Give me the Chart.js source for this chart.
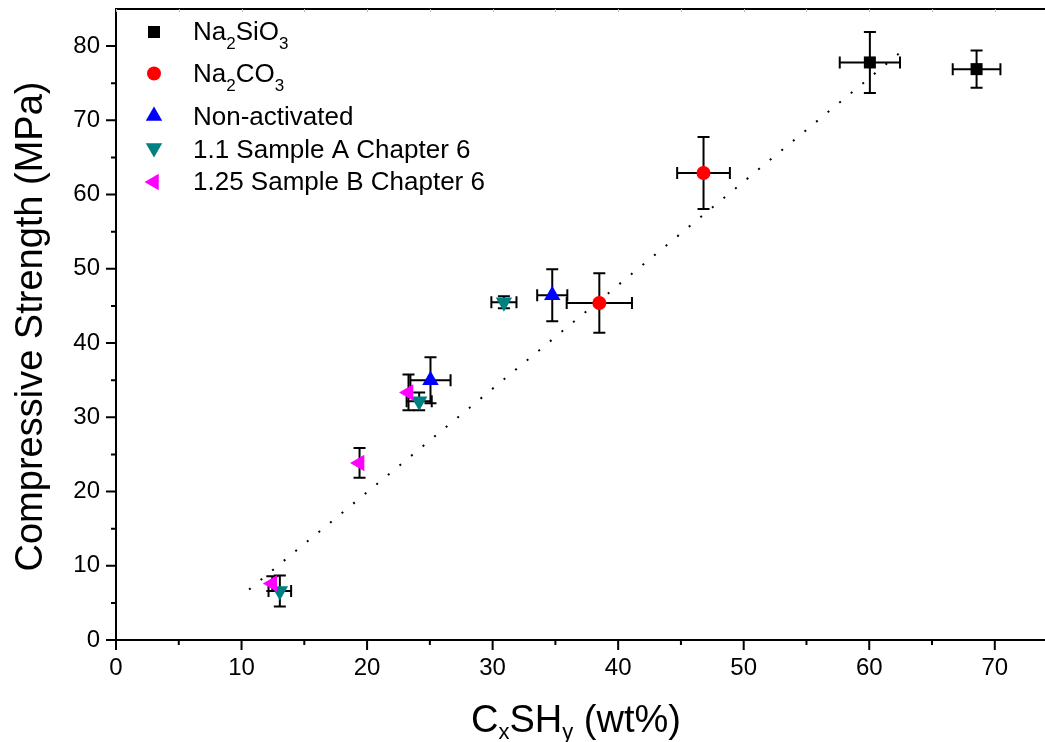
<!DOCTYPE html>
<html>
<head>
<meta charset="utf-8">
<script src="https://cdn.jsdelivr.net/npm/chart.js@4/dist/chart.umd.min.js"></script>
<style>
  html, body { margin: 0; padding: 0; background: #fff; }
  #wrap { width: 1045px; height: 742px; }
</style>
</head>
<body>
<div id="wrap"><canvas id="c" width="1045" height="742"></canvas></div>
<script>
const FONT = "'Liberation Sans', Arial, Helvetica, sans-serif";

// C-S-H content (wt%) vs compressive strength (MPa), with error bars
const silicateX    = [60.05, 68.55];
const silicateY    = [77.8, 76.9];
const silicateXErr = [2.4, 1.9];
const silicateYErr = [4.1, 2.5];

const carbonateX    = [46.8, 38.5];
const carbonateY    = [62.9, 45.4];
const carbonateXErr = [2.1, 2.6];
const carbonateYErr = [4.85, 4.0];

const nonActX    = [34.75, 25.05];
const nonActY    = [46.45, 35.0];
const nonActXErr = [1.2, 1.6];
const nonActYErr = [3.5, 3.1];

const sampleAX    = [30.9, 24.15, 13.05];
const sampleAY    = [45.5, 32.15, 6.6];
const sampleAXErr = [1.0, 1.0, 0.9];
const sampleAYErr = [0.8, 1.2, 2.1];

const sampleBX    = [23.3, 19.4, 12.45];
const sampleBY    = [33.35, 23.85, 7.6];
const sampleBXErr = [0, 0, 0];
const sampleBYErr = [2.4, 2.0, 1.0];

// dotted trend line end points
const trendX = [10.6, 62.8];
const trendY = [6.8, 79.6];

// axis ticks
const xTickValues = [0, 10, 20, 30, 40, 50, 60, 70];
const yTickValues = [0, 10, 20, 30, 40, 50, 60, 70, 80];
const xMinorTicks = [5, 15, 25, 35, 45, 55, 65];
const yMinorTicks = [5, 15, 25, 35, 45, 55, 65, 75];

function points(xs, ys, xe, ye) {
  return xs.map((x, i) => ({ x: x, y: ys[i], xErr: xe[i], yErr: ye[i] }));
}

const series = [
  { key: 'si', parts: [{t:'Na'},{t:'2',sub:true},{t:'SiO'},{t:'3',sub:true}],
    color: '#000000', style: 'rect', radius: 8.5, rotation: 0, legendY: 32, textY: 40,
    data: points(silicateX, silicateY, silicateXErr, silicateYErr) },
  { key: 'co', parts: [{t:'Na'},{t:'2',sub:true},{t:'CO'},{t:'3',sub:true}],
    color: '#ff0000', style: 'circle', radius: 7, rotation: 0, legendY: 73.5, textY: 82,
    data: points(carbonateX, carbonateY, carbonateXErr, carbonateYErr) },
  { key: 'na', parts: [{t:'Non-activated'}],
    color: '#0000ff', style: 'triangle', radius: 9.5, rotation: 0, legendY: 116, textY: 125,
    data: points(nonActX, nonActY, nonActXErr, nonActYErr) },
  { key: 'sa', parts: [{t:'1.1 Sample A Chapter 6'}],
    color: '#008080', style: 'triangle', radius: 9.5, rotation: 180, legendY: 148, textY: 158,
    data: points(sampleAX, sampleAY, sampleAXErr, sampleAYErr) },
  { key: 'sb', parts: [{t:'1.25 Sample B Chapter 6'}],
    color: '#ff00ff', style: 'triangle', radius: 9.5, rotation: 270, legendY: 182, textY: 190,
    data: points(sampleBX, sampleBY, sampleBXErr, sampleBYErr) }
];

function drawRich(ctx, parts, x, y, size, subSize, subDrop) {
  for (const p of parts) {
    ctx.font = (p.sub ? subSize : size) + 'px ' + FONT;
    ctx.fillText(p.t, x, p.sub ? y + subDrop : y);
    x += ctx.measureText(p.t).width;
  }
  return x;
}
function richWidth(ctx, parts, size, subSize) {
  let w = 0;
  for (const p of parts) {
    ctx.font = (p.sub ? subSize : size) + 'px ' + FONT;
    w += ctx.measureText(p.t).width;
  }
  return w;
}

const errorBars = {
  id: 'errorBars',
  beforeDatasetsDraw(chart) {
    const ctx = chart.ctx, xs = chart.scales.x, ys = chart.scales.y;
    const cap = 6;
    ctx.save();
    ctx.strokeStyle = '#000';
    ctx.lineWidth = 2;
    ctx.lineCap = 'butt';
    series.forEach(s => {
      s.data.forEach(p => {
        const px = xs.getPixelForValue(p.x), py = ys.getPixelForValue(p.y);
        if (p.xErr > 0) {
          const l = xs.getPixelForValue(p.x - p.xErr), r = xs.getPixelForValue(p.x + p.xErr);
          ctx.beginPath();
          ctx.moveTo(l, py); ctx.lineTo(r, py);
          ctx.moveTo(l, py - cap); ctx.lineTo(l, py + cap);
          ctx.moveTo(r, py - cap); ctx.lineTo(r, py + cap);
          ctx.stroke();
        }
        if (p.yErr > 0) {
          const t = ys.getPixelForValue(p.y + p.yErr), b = ys.getPixelForValue(p.y - p.yErr);
          ctx.beginPath();
          ctx.moveTo(px, t); ctx.lineTo(px, b);
          ctx.moveTo(px - cap, t); ctx.lineTo(px + cap, t);
          ctx.moveTo(px - cap, b); ctx.lineTo(px + cap, b);
          ctx.stroke();
        }
      });
    });
    ctx.restore();
  }
};

const frameAndText = {
  id: 'frameAndText',
  afterDraw(chart) {
    const ctx = chart.ctx, a = chart.chartArea, xs = chart.scales.x, ys = chart.scales.y;
    ctx.save();
    ctx.strokeStyle = '#000';
    ctx.lineWidth = 2;
    // frame: left, bottom, top
    ctx.beginPath();
    ctx.moveTo(a.left, a.top); ctx.lineTo(a.left, a.bottom); ctx.lineTo(a.right, a.bottom);
    ctx.moveTo(a.left - 1, a.top); ctx.lineTo(a.right, a.top);
    ctx.stroke();
    // outward tick marks
    ctx.beginPath();
    xTickValues.forEach(v => { const x = xs.getPixelForValue(v); ctx.moveTo(x, a.bottom); ctx.lineTo(x, a.bottom + 10); });
    xMinorTicks.forEach(v => { const x = xs.getPixelForValue(v); ctx.moveTo(x, a.bottom); ctx.lineTo(x, a.bottom + 5); });
    yTickValues.forEach(v => { const y = ys.getPixelForValue(v); ctx.moveTo(a.left, y); ctx.lineTo(a.left - 10, y); });
    yMinorTicks.forEach(v => { const y = ys.getPixelForValue(v); ctx.moveTo(a.left, y); ctx.lineTo(a.left - 5, y); });
    ctx.stroke();
    // faint inward ticks on the top edge
    ctx.strokeStyle = '#bbbbbb';
    ctx.lineWidth = 1;
    ctx.beginPath();
    xTickValues.concat(xMinorTicks).forEach(v => {
      const x = Math.round(xs.getPixelForValue(v)) + 0.5;
      ctx.moveTo(x, a.top); ctx.lineTo(x, a.top + 3);
    });
    ctx.stroke();

    ctx.fillStyle = '#000';
    // y axis title
    ctx.save();
    ctx.translate(42, (a.top + a.bottom) / 2 + 2);
    ctx.rotate(-Math.PI / 2);
    ctx.font = '38px ' + FONT;
    ctx.textAlign = 'center';
    ctx.textBaseline = 'alphabetic';
    ctx.fillText('Compressive Strength (MPa)', 0, 0);
    ctx.restore();

    // x axis title with subscripts
    const xt = [{t:'C'},{t:'x',sub:true},{t:'SH'},{t:'y',sub:true},{t:' (wt%)'}];
    ctx.textAlign = 'left';
    ctx.textBaseline = 'alphabetic';
    const w = richWidth(ctx, xt, 38, 22);
    drawRich(ctx, xt, 576 - w / 2, 731.5, 38, 22, 7);

    // legend
    series.forEach(s => {
      ctx.fillStyle = s.color;
      ctx.strokeStyle = s.color;
      Chart.helpers.drawPoint(ctx, { pointStyle: s.style, rotation: s.rotation, radius: s.radius, borderWidth: 0 }, 154, s.legendY);
      ctx.fillStyle = '#000';
      drawRich(ctx, s.parts, 193, s.textY, 26, 17, 9);
    });
    ctx.restore();
  }
};

const datasets = series.map((s, i) => ({
  label: s.parts.map(p => p.t).join(''),
  data: s.data,
  pointStyle: s.style,
  pointRotation: s.rotation,
  pointRadius: s.radius,
  pointHoverRadius: s.radius,
  pointBorderWidth: 0,
  backgroundColor: s.color,
  borderColor: s.color,
  showLine: false,
  order: series.length - 1 - i
}));
datasets.push({
  label: 'trend',
  data: trendX.map((x, i) => ({ x: x, y: trendY[i] })),
  showLine: true,
  borderColor: '#000',
  borderWidth: 2,
  borderDash: [2, 13],
  pointRadius: 0,
  fill: false,
  order: 10
});

new Chart(document.getElementById('c'), {
  type: 'scatter',
  data: { datasets: datasets },
  options: {
    responsive: false,
    animation: false,
    devicePixelRatio: 1,
    layout: { autoPadding: false, padding: { top: 9, right: 0, left: 0, bottom: 0 } },
    plugins: { legend: { display: false }, tooltip: { enabled: false }, title: { display: false } },
    scales: {
      x: {
        type: 'linear', min: 0, max: 74,
        afterFit: s => { s.height = 102; s.paddingLeft = 0; s.paddingRight = 0; },
        afterBuildTicks: s => { s.ticks = xTickValues.map(v => ({ value: v })); },
        ticks: { color: '#000', font: { family: FONT, size: 24 }, padding: 4, maxRotation: 0, includeBounds: false },
        grid: { display: true, drawOnChartArea: false, drawTicks: true, tickLength: 10, color: 'rgba(0,0,0,0)' },
        border: { display: false }
      },
      y: {
        type: 'linear', min: 0, max: 85,
        afterFit: s => { s.width = 116; s.paddingTop = 0; s.paddingBottom = 0; },
        afterBuildTicks: s => { s.ticks = yTickValues.map(v => ({ value: v })); },
        ticks: { color: '#000', font: { family: FONT, size: 24 }, padding: 6, includeBounds: false },
        grid: { display: true, drawOnChartArea: false, drawTicks: true, tickLength: 10, color: 'rgba(0,0,0,0)' },
        border: { display: false }
      }
    }
  },
  plugins: [errorBars, frameAndText]
});
</script>
</body>
</html>
